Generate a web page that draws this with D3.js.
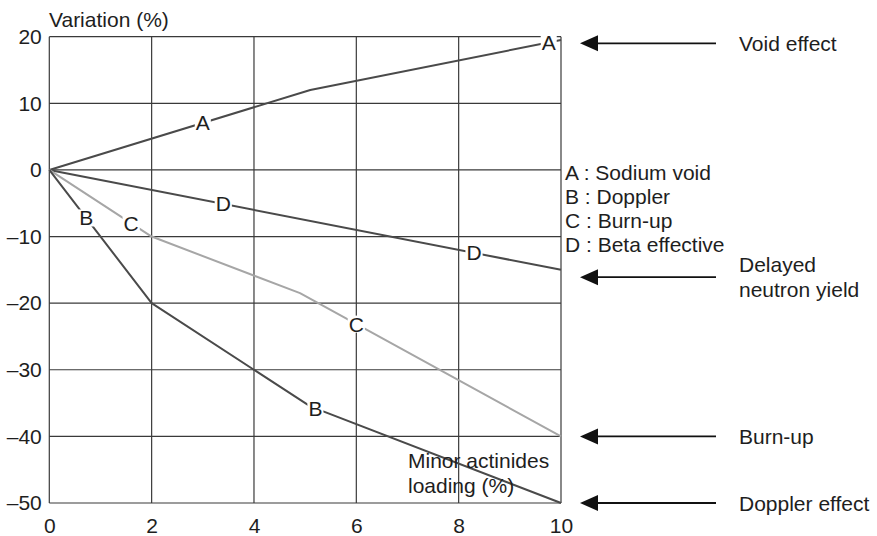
<!DOCTYPE html>
<html>
<head>
<meta charset="utf-8">
<script src="https://cdn.jsdelivr.net/npm/d3@7"></script>
<style>
  html, body { margin: 0; padding: 0; background: #fff; }
  svg { display: block; font-family: "Liberation Sans", Arial, Helvetica, sans-serif; }
</style>
</head>
<body>
<svg id="chart" width="877" height="536"></svg>
<script>
// Minor actinides loading (%) on x, variation (%) on y
const xTicks = [0, 2, 4, 6, 8, 10];
const yTicks = [20, 10, 0, -10, -20, -30, -40, -50];

// Piecewise-linear curves: loading points and variation values
const loadingA = [0, 5.1, 10];
const variationA = [0, 12, 19.5];          // A : Sodium void
const loadingB = [0, 2, 5.1, 10];
const variationB = [0, -20, -35.5, -50];   // B : Doppler
const loadingC = [0, 2, 4.9, 10];
const variationC = [0, -10, -18.5, -40];   // C : Burn-up
const loadingD = [0, 10];
const variationD = [0, -15];               // D : Beta effective

// Where the letter tags sit along each curve (loading values)
const tagsA = [3.0, 9.76];
const tagsB = [0.72, 5.2];
const tagsC = [1.6, 6.0];
const tagsD = [3.4, 8.3];

const legendItems = ["A : Sodium void", "B : Doppler", "C : Burn-up", "D : Beta effective"];

// Effects pointed at on the right, by the variation level they refer to
const effectNames = [["Void effect"], ["Delayed", "neutron yield"], ["Burn-up"], ["Doppler effect"]];
const effectLevels = [19.0, -16.1, -40, -50];

const FS = 21;
const textColor = "#1e1e1e";

const svg = d3.select("#chart");
const x = d3.scaleLinear().domain([0, 10]).range([49.3, 561]);
const y = d3.scaleLinear().domain([20, -50]).range([36.7, 503]);

const gridColor = "#3a3a3a";
const g = svg.append("g");

// grid
g.selectAll("line.v").data(xTicks).join("line")
  .attr("x1", d => x(d)).attr("x2", d => x(d))
  .attr("y1", y(20)).attr("y2", y(-50))
  .attr("stroke", gridColor).attr("stroke-width", 1.2);
g.selectAll("line.h").data(yTicks).join("line")
  .attr("x1", x(0)).attr("x2", x(10))
  .attr("y1", d => y(d)).attr("y2", d => y(d))
  .attr("stroke", gridColor).attr("stroke-width", 1.2);

// tick labels via d3 axes (tick lines hidden)
const xAxis = d3.axisBottom(x).tickValues(xTicks).tickSize(0)
  .tickFormat(d => d3.format("d")(d));
const yAxis = d3.axisLeft(y).tickValues(yTicks).tickSize(0).tickPadding(7.5)
  .tickFormat(d => (d < 0 ? "\u2013" + Math.abs(d) : String(d)));

const gx = svg.append("g").attr("transform", `translate(0,${y(-50)})`).call(xAxis);
const gy = svg.append("g").attr("transform", `translate(${x(0)},0)`).call(yAxis);
[gx, gy].forEach(a => {
  a.select(".domain").remove();
  a.selectAll("text").attr("font-size", FS).attr("fill", textColor)
    .attr("font-family", "'Liberation Sans', Arial, sans-serif");
});
gx.selectAll("text").attr("dy", null).attr("y", 30);

svg.append("text").attr("x", 49).attr("y", 27)
  .attr("font-size", FS).attr("fill", textColor).text("Variation (%)");

// curves
const series = [
  { xs: loadingA, ys: variationA, tags: tagsA, tag: "A", color: "#4a4a4a", w: 2 },
  { xs: loadingD, ys: variationD, tags: tagsD, tag: "D", color: "#4a4a4a", w: 2 },
  { xs: loadingC, ys: variationC, tags: tagsC, tag: "C", color: "#a6a6a6", w: 2 },
  { xs: loadingB, ys: variationB, tags: tagsB, tag: "B", color: "#4a4a4a", w: 2 }
];

const line = d3.line().x(d => x(d[0])).y(d => y(d[1]));
series.forEach(s => {
  const pts = s.xs.map((v, i) => [v, s.ys[i]]);
  g.append("path").datum(pts).attr("d", line)
    .attr("fill", "none").attr("stroke", s.color).attr("stroke-width", s.w)
    .attr("stroke-linejoin", "round");
});

// tags along curves, each on a white patch that breaks the line
series.forEach(s => {
  s.tags.forEach(t => {
    let i = 0;
    while (i < s.xs.length - 2 && t > s.xs[i + 1]) i++;
    const f = (t - s.xs[i]) / (s.xs[i + 1] - s.xs[i]);
    const v = s.ys[i] + f * (s.ys[i + 1] - s.ys[i]);
    const tg = g.append("g").attr("transform", `translate(${x(t)},${y(v)})`);
    const txt = tg.append("text").attr("text-anchor", "middle").attr("dy", "0.36em")
      .attr("font-size", FS).attr("fill", textColor).text(s.tag);
    const bb = txt.node().getBBox();
    tg.insert("rect", "text")
      .attr("x", bb.x - 1).attr("y", bb.y + 3)
      .attr("width", bb.width + 2).attr("height", bb.height - 6)
      .attr("fill", "#fff");
  });
});

// axis title inside plot
const mt = svg.append("text").attr("font-size", FS).attr("fill", textColor);
mt.append("tspan").attr("x", 408).attr("y", 467.5).text("Minor actinides");
mt.append("tspan").attr("x", 408).attr("y", 492.5).text("loading (%)");

// legend
svg.append("g").selectAll("text").data(legendItems).join("text")
  .attr("x", 565).attr("y", (d, i) => y(0) + 10 + i * 23.9)
  .attr("font-size", FS).attr("fill", textColor).text(d => d);

// arrows pointing at the plot's right edge
const arrowColor = "#111";
effectNames.forEach((names, i) => {
  const ay = y(effectLevels[i]);
  const ag = svg.append("g");
  ag.append("line").attr("x1", 594).attr("x2", 716).attr("y1", ay).attr("y2", ay)
    .attr("stroke", arrowColor).attr("stroke-width", 1.8);
  ag.append("path")
    .attr("d", `M580,${ay} L598,${ay - 8} L598,${ay + 8} Z`)
    .attr("fill", arrowColor);
  const t = ag.append("text").attr("font-size", FS).attr("fill", textColor);
  if (names.length === 1) {
    t.append("tspan").attr("x", 739).attr("y", ay + 7.5).text(names[0]);
  } else {
    t.append("tspan").attr("x", 739).attr("y", ay - 5).text(names[0]);
    t.append("tspan").attr("x", 739).attr("y", ay + 20).text(names[1]);
  }
});
</script>
</body>
</html>
